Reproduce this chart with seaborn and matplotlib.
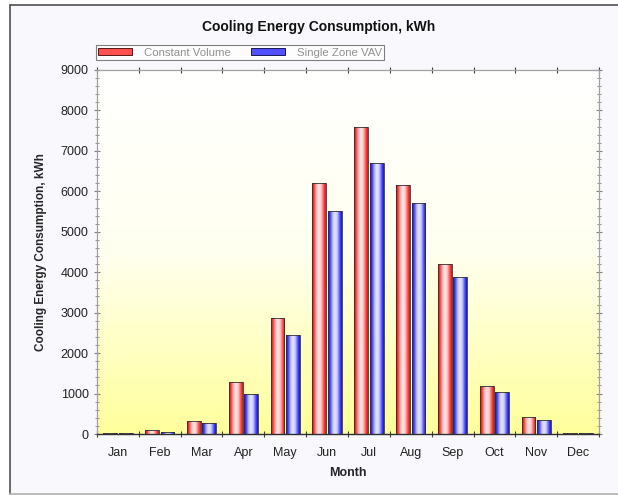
import matplotlib
matplotlib.use('Agg')
import matplotlib.pyplot as plt
import matplotlib.patches as mpatches
import matplotlib.lines as mlines
from matplotlib.colors import LinearSegmentedColormap
from matplotlib.ticker import MultipleLocator, FixedLocator
import numpy as np
import pandas as pd
import seaborn as sns

# ---------------- data ----------------
months = ['Jan', 'Feb', 'Mar', 'Apr', 'May', 'Jun',
          'Jul', 'Aug', 'Sep', 'Oct', 'Nov', 'Dec']
constant_volume = [20, 100, 320, 1280, 2880, 6200, 7580, 6150, 4200, 1190, 410, 30]
single_zone_vav = [15, 55, 270, 990, 2450, 5520, 6700, 5700, 3880, 1030, 340, 30]
series_names = ['Constant Volume', 'Single Zone VAV']

df = pd.DataFrame({
    'Month': months * 2,
    'kWh': constant_volume + single_zone_vav,
    'Series': [series_names[0]] * 12 + [series_names[1]] * 12,
})

# ---------------- style ----------------
sns.set_theme(style='white')
plt.rcParams['font.family'] = ['Liberation Sans', 'DejaVu Sans']

fig = plt.figure(figsize=(6.18, 4.98), dpi=100)
fig.patch.set_facecolor('white')
# outer frame of the chart control (no right edge visible)
frame = mpatches.Rectangle((10 / 618, 4 / 498), 0.99, 489 / 498,
                           transform=fig.transFigure, facecolor='#f8f8fd',
                           edgecolor='none', zorder=-10)
fig.patches.append(frame)
fig.lines.append(mlines.Line2D([10 / 618, 10 / 618], [4 / 498, 1 - 5 / 498],
                               transform=fig.transFigure, color='#505050', lw=1.2))
fig.lines.append(mlines.Line2D([10 / 618, 1], [1 - 5 / 498, 1 - 5 / 498],
                               transform=fig.transFigure, color='#505050', lw=1.2))
fig.lines.append(mlines.Line2D([10 / 618, 1], [4 / 498, 4 / 498],
                               transform=fig.transFigure, color='#b0b0b0', lw=1.2))

ax = fig.add_axes([97 / 618, 64 / 498, 502 / 618, 364 / 498])

sns.barplot(data=df, x='Month', y='kWh', hue='Series', order=months,
            hue_order=series_names, palette=['#ff4040', '#4040ff'],
            width=0.74, gap=0.1, legend=False, ax=ax,
            edgecolor='#303030', linewidth=0.6)

# gradient fill on the bars
red_cmap = LinearSegmentedColormap.from_list(
    'r', ['#c01010', '#ff4848', '#ffc0c0', '#ffe8e8', '#ffc8c8', '#ff5858', '#d01010'])
blue_cmap = LinearSegmentedColormap.from_list(
    'b', ['#1010c0', '#4848ff', '#c0c0ff', '#e8e8ff', '#c8c8ff', '#5858ff', '#1010d0'])
grad = np.linspace(0, 1, 64).reshape(1, -1)
bars = list(ax.patches)
for i, p in enumerate(bars):
    cmap = red_cmap if i < len(months) else blue_cmap
    x0, y0 = p.get_x(), p.get_y()
    w, h = p.get_width(), p.get_height()
    if h <= 0:
        continue
    im = ax.imshow(grad, cmap=cmap, aspect='auto', extent=[x0, x0 + w, y0, y0 + h],
                   zorder=2, interpolation='bicubic')
    im.set_clip_path(p)
    p.set_facecolor('none')
    p.set_zorder(3)

# background gradient of the plot area (white top -> yellow bottom)
bg_cmap = LinearSegmentedColormap.from_list('bg', ['#ffff9c', '#fffff0', '#ffffff'])
bg = np.linspace(0, 1, 256).reshape(-1, 1)
ax.imshow(bg, cmap=bg_cmap, aspect='auto', extent=[0, 1, 0, 1], origin='lower',
          transform=ax.transAxes, zorder=0)

ax.set_xlim(-0.5, len(months) - 0.5)
ax.set_ylim(0, 9000)
ax.yaxis.set_major_locator(MultipleLocator(1000))
ax.yaxis.set_minor_locator(MultipleLocator(200))
ax.xaxis.set_minor_locator(FixedLocator(np.arange(-0.5, len(months), 1)))

ax.tick_params(axis='x', which='major', length=0, labelsize=9, pad=9, colors='#222222')
ax.tick_params(axis='x', which='minor', length=4, direction='inout', width=0.8,
               color='#404040', top=True, bottom=True)
ax.tick_params(axis='y', which='major', length=5, direction='inout', width=0.8,
               color='#808080', labelsize=9, labelcolor='#222222',
               left=True, right=True)
ax.tick_params(axis='y', which='minor', length=3, direction='inout', width=0.6,
               color='#808080', left=True, right=True)

for side in ['top', 'right', 'left']:
    ax.spines[side].set_color('#a0a0a0')
    ax.spines[side].set_linewidth(0.9)
ax.spines['bottom'].set_color('#303030')
ax.spines['bottom'].set_linewidth(1.0)

ax.set_xlabel('Month', fontsize=9, fontweight='bold', labelpad=6)
ax.set_ylabel('Cooling Energy Consumption, kWh', fontsize=8.5, fontweight='bold', labelpad=10)
fig.text(319 / 618, 1 - 27 / 498, 'Cooling Energy Consumption, kWh', ha='center', va='center',
         fontsize=10, fontweight='bold', color='#111111')

# legend above the plot area
handles = [mpatches.Patch(facecolor='#ff5050', edgecolor='#400000', linewidth=0.6),
           mpatches.Patch(facecolor='#5050ff', edgecolor='#000040', linewidth=0.6)]
leg = fig.legend(handles, series_names, loc='lower left', ncol=2,
                 bbox_to_anchor=(96 / 618, 1 - 60 / 498), fontsize=8.2, frameon=True,
                 fancybox=False, edgecolor='#606060', borderpad=0.2,
                 handlelength=3.0, handleheight=0.5, columnspacing=1.8,
                 handletextpad=1.0, borderaxespad=0)
leg.get_frame().set_linewidth(0.8)
leg.get_frame().set_facecolor('white')
for t in leg.get_texts():
    t.set_color('#909090')

fig.savefig('out.png', dpi=100)
